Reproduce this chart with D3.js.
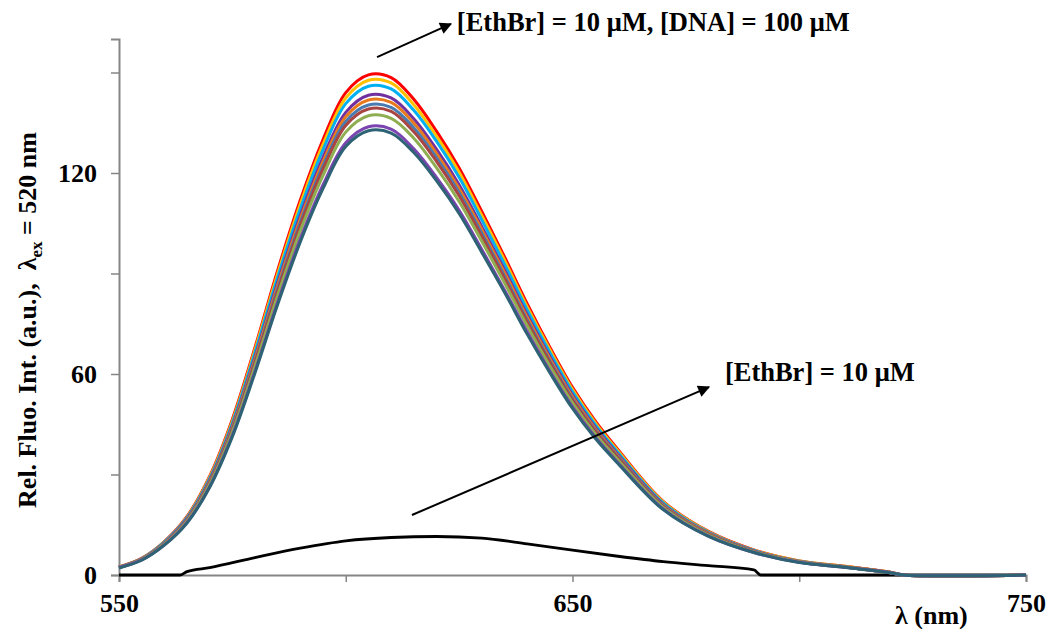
<!DOCTYPE html>
<meta charset="utf-8">
<script src="https://d3js.org/d3.v7.min.js"></script>
<style>
  body { margin: 0; background: #fff; }
  text { font-family: "Liberation Serif", "Times New Roman", serif; font-weight: bold; fill: #000; }
</style>
<div id="chart"></div>
<script>

// wavelengths (nm) shared by the titration spectra
var wavelengths = [550,555,560,565,570,575,580,585,590,595,600,605,610,615,620,625,630,635,640,645,650,655,660,670,680,690,700,710,720,723,750];

// one spectrum per DNA addition, top to bottom at the peak
var specRed    = [2.4,5,10,17.5,29.5,46.5,68,91,112,130,144,149.3,148.5,142,132.5,121.5,108.5,95,81,68,56,46,37.5,22,13,7.5,4.2,2.6,0.8,0,0];
var specYellow = [2.4,4.9,9.9,17.3,29.2,46,67.3,90,110.8,128.6,142.4,147.7,146.9,140.4,131,120.2,107.3,94,80.1,67.3,55.4,45.5,37.1,21.8,12.9,7.4,4.2,2.6,0.8,0,0];
var specCyan   = [2.3,4.9,9.8,17.1,28.8,45.4,66.4,88.9,109.4,127,140.7,145.9,145.1,138.7,129.5,118.7,106,92.8,79.1,66.4,54.7,44.9,36.6,21.5,12.7,7.3,4.1,2.5,0.8,0,0];
var specPurple = [2.3,4.8,9.6,16.8,28.3,44.6,65.2,87.3,107.4,124.7,138.1,143.2,142.4,136.2,127.1,116.5,104,91.1,77.7,65.2,53.7,44.1,36,21.1,12.5,7.2,4.0,2.5,0.8,0,0];
var specOrange = [2.3,4.8,9.5,16.6,28,44.2,64.6,86.5,106.4,123.5,136.8,141.8,141.1,134.9,125.9,115.4,103.1,90.3,77,64.6,53.2,43.7,35.6,20.9,12.4,7.1,4.0,2.5,0.8,0,0];
var specSteel  = [2.3,4.7,9.4,16.5,27.7,43.7,63.9,85.5,105.3,122.2,135.4,140.3,139.6,133.5,124.6,114.2,102,89.3,76.1,63.9,52.6,43.2,35.3,20.7,12.2,7.1,3.9,2.4,0.7,0,0];
var specBrown  = [2.2,4.7,9.3,16.3,27.5,43.3,63.4,84.8,104.4,121.2,134.2,139.1,138.4,132.3,123.5,113.2,101.1,88.5,75.5,63.4,52.2,42.9,35,20.5,12.1,7.0,3.9,2.4,0.7,0,0];
var specGreen  = [2.2,4.6,9.2,16.1,27.1,42.7,62.4,83.5,102.8,119.3,132.2,137.1,136.3,130.4,121.6,111.5,99.6,87.2,74.4,62.4,51.4,42.2,34.4,20.2,11.9,6.9,3.9,2.4,0.7,0,0];
var specViolet = [2.2,4.5,9,15.7,26.4,41.7,60.9,81.5,100.4,116.5,129,133.8,133.1,127.2,118.7,108.9,97.2,85.1,72.6,60.9,50.2,41.2,33.6,19.7,11.6,6.7,3.8,2.3,0.7,0,0];
var specTeal   = [2.1,4.4,8.9,15.5,26.2,41.3,60.4,80.8,99.5,115.4,127.9,132.6,131.9,126.1,117.7,107.9,96.3,84.4,71.9,60.4,49.7,40.8,33.3,19.5,11.5,6.7,3.7,2.3,0.7,0,0];

var spectra = [specRed, specYellow, specCyan, specPurple, specOrange, specSteel, specBrown, specGreen, specViolet, specTeal];
var colors  = ["#ff0000", "#ffc000", "#00b0f0", "#7030a0", "#e87a1e", "#4a7bb0", "#a84543", "#8fae52", "#7a45b0", "#2e6275"];

// EthBr alone
var freeWl  = [550,563.5,565,570,580,590,600,610,620,630,640,650,660,670,680,690,691.5,750];
var freeVal = [0,0,1.0,2.2,5.2,8.0,10.2,11.2,11.5,11.0,9.3,7.4,5.6,4.0,2.8,1.5,0,0];

// axis ticks
var xTicks = [550,600,650,700,750];
var xLabels = [550,650,750];
var yTicks = [0,30,60,90,120,150];
var yLabels = [0,60,120];

var W = 1048, H = 629;

var svg = d3.select("#chart").append("svg")
    .attr("width", W)
    .attr("height", H);

var x = d3.scaleLinear().domain([550, 750]).range([119, 1026]);
var y = d3.scaleLinear().domain([0, 160]).range([575, 39]);

// axes
svg.append("g")
    .attr("transform", "translate(0," + y(0) + ")")
    .call(d3.axisBottom(x)
        .tickValues(xTicks)
        .tickSize(7)
        .tickPadding(12)
        .tickFormat(function(d) { return xLabels.indexOf(d) >= 0 ? d : ""; }));

svg.append("g")
    .attr("transform", "translate(" + x(550) + ",0)")
    .call(d3.axisLeft(y)
        .tickValues(yTicks)
        .tickSize(8)
        .tickPadding(14)
        .tickFormat(function(d) { return yLabels.indexOf(d) >= 0 ? d : ""; }));

svg.selectAll(".domain").attr("stroke", "#868686").attr("stroke-width", 2);
svg.selectAll(".tick line").attr("stroke", "#868686").attr("stroke-width", 1.5);
svg.selectAll(".tick text")
    .attr("fill", "#000")
    .style("font-family", "'Liberation Serif', serif")
    .style("font-weight", "bold")
    .style("font-size", "26px");

var smooth = d3.line()
    .x(function(d) { return x(d[0]); })
    .y(function(d) { return y(d[1]); })
    .curve(d3.curveCatmullRom.alpha(0.5));

var stepped = d3.line()
    .x(function(d) { return x(d[0]); })
    .y(function(d) { return y(d[1]); })
    .curve(d3.curveMonotoneX);

// free EthBr spectrum first, the colored set goes on top of it
svg.append("path")
    .attr("d", stepped(d3.zip(freeWl, freeVal)))
    .attr("fill", "none")
    .attr("stroke", "#000")
    .attr("stroke-width", 2.8);

spectra.forEach(function(s, i) {
    svg.append("path")
        .attr("d", smooth(d3.zip(wavelengths, s)))
        .attr("fill", "none")
        .attr("stroke", colors[i])
        .attr("stroke-width", 3);
});

// arrow head
svg.append("defs").append("marker")
    .attr("id", "head")
    .attr("viewBox", "0 0 10 10")
    .attr("refX", 9).attr("refY", 5)
    .attr("markerWidth", 8).attr("markerHeight", 6)
    .attr("markerUnits", "strokeWidth")
    .attr("orient", "auto")
  .append("path")
    .attr("d", "M0,0 L10,5 L0,10 z")
    .attr("fill", "#000");

// annotations, placed in data units
var notes = [
    {from: [606.9, 154.6], to: [623.2, 164.5], at: [624.5, 162.4], text: "[EthBr] = 10 μM, [DNA] = 100 μM"},
    {from: [614.6, 17.9],  to: [680.1, 56.1],  at: [683.6, 57.9],  text: "[EthBr] = 10 μM"}
];

notes.forEach(function(n) {
    svg.append("line")
        .attr("x1", x(n.from[0])).attr("y1", y(n.from[1]))
        .attr("x2", x(n.to[0])).attr("y2", y(n.to[1]))
        .attr("stroke", "#000")
        .attr("stroke-width", 2)
        .attr("marker-end", "url(#head)");
    svg.append("text")
        .attr("x", x(n.at[0])).attr("y", y(n.at[1]))
        .style("font-size", "26.5px")
        .text(n.text);
});

// axis titles
svg.append("text")
    .attr("x", 895).attr("y", 624)
    .style("font-size", "26px")
    .text("λ (nm)");

var ylab = svg.append("text")
    .attr("transform", "translate(36,320) rotate(-90)")
    .attr("text-anchor", "middle")
    .style("font-size", "26px");
ylab.append("tspan").text("Rel. Fluo. Int. (a.u.),\u00a0\u00a0λ");
ylab.append("tspan").attr("dy", 6).style("font-size", "17px").text("ex");
ylab.append("tspan").attr("dy", -6).text(" = 520 nm");

</script>
